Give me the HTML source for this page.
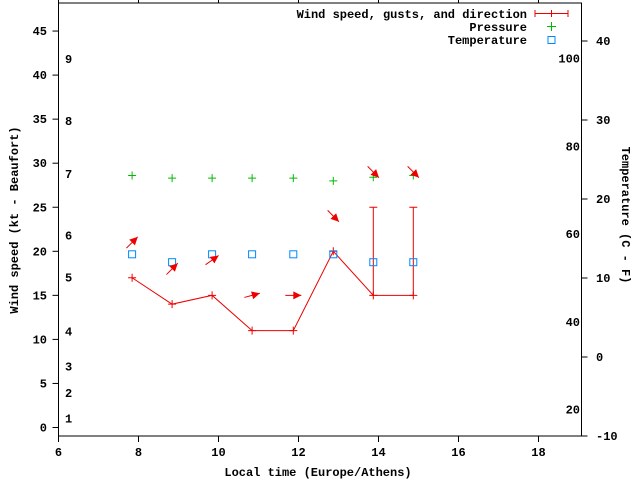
<!DOCTYPE html>
<html><head><meta charset="utf-8"><style>
body{margin:0;background:#fff}
svg{display:block}
text{font-family:"Liberation Mono","DejaVu Sans Mono",monospace;font-size:12px;font-weight:bold;fill:#000}
</style></head><body>
<svg id="chart" width="640" height="480" viewBox="0 0 640 480" xmlns="http://www.w3.org/2000/svg">
<rect x="0" y="0" width="640" height="480" fill="#fff"/>
<g id="axes"></g>
<g id="series"></g>
<g>
<text x="527" y="18" text-anchor="end">Wind speed, gusts, and direction</text>
<g stroke="#e00" stroke-width="1"><line x1="535" y1="13.5" x2="568" y2="13.5"/><line x1="535" y1="10" x2="535" y2="17"/><line x1="568" y1="10" x2="568" y2="17"/><line x1="551.5" y1="10" x2="551.5" y2="17"/></g>
<text x="527" y="31" text-anchor="end">Pressure</text>
<g stroke="#0b0" stroke-width="1"><line x1="547" y1="26.5" x2="556" y2="26.5"/><line x1="551.5" y1="22" x2="551.5" y2="31"/></g>
<text x="527" y="44" text-anchor="end">Temperature</text>
<rect x="548" y="36.5" width="7" height="7" fill="none" stroke="#08f"/>
</g>
<text x="318" y="476" text-anchor="middle">Local time (Europe/Athens)</text>
<text transform="translate(18,220) rotate(-90)" text-anchor="middle">Wind speed (kt - Beaufort)</text>
<text transform="translate(622,215) rotate(90)" text-anchor="middle">Temperature (C - F)</text>
</svg>
<script>
const times=[7.84,8.84,9.84,10.84,11.87,12.87,13.87,14.87];
const windKt=[17,14,15,11,11,20,15,15];
const gustKt=[null,null,null,null,null,null,25,25];
const pressurePlot=[28.6,28.3,28.3,28.3,28.3,28.0,28.4,28.6];
const tempC=[13,12,13,13,13,13,12,12];
const windFromDeg=[225,225,235,255,270,315,315,315];
const arrowKt=[21,18,19,15,15,24,29,29];
const xTicks=[6,8,10,12,14,16,18];
const yTicks=[0,5,10,15,20,25,30,35,40,45];
const y2Ticks=[-10,0,10,20,30,40];
const fTicks=[20,40,60,80,100];
const bftLabels=["1","2","3","4","5","6","7","8","9"];
const bftKt=[1.0,3.9,6.9,10.9,17,21.8,28.8,34.8,41.8];

const L=58.5,R=581.5,T=3,B=436;
const X=t=>L+(t-6)*40;
const Y=v=>427.5-v*8.81;
const Y2=c=>357-c*7.9;
const NS="http://www.w3.org/2000/svg";
const ax=document.getElementById('axes'),se=document.getElementById('series');
function mk(tag,attrs,parent,txt){const e=document.createElementNS(NS,tag);for(const k in attrs)e.setAttribute(k,attrs[k]);if(txt!==undefined)e.textContent=txt;parent.appendChild(e);return e;}

let e=mk('rect',{x:L,y:T,width:R-L,height:B-T,fill:'none',stroke:'#000','stroke-width':1},ax);


xTicks.forEach(t=>{
 let l=mk('line',{x1:X(t),y1:B,x2:X(t),y2:B+6,stroke:'#000'},ax);
 
 
 let l2=mk('line',{x1:X(t),y1:T,x2:X(t),y2:T-6,stroke:'#000'},ax);
 
 
 let s=mk('text',{x:X(t),y:B+20,'text-anchor':'middle'},ax,String(t));
 
 
});
yTicks.forEach(v=>{
 let l=mk('line',{x1:L-6,y1:Y(v),x2:L,y2:Y(v),stroke:'#000'},ax);
 
 
 let s=mk('text',{x:47,y:Y(v)+4,'text-anchor':'end'},ax,String(v));
 
 
});
y2Ticks.forEach(v=>{
 let l=mk('line',{x1:R,y1:Y2(v),x2:R+6,y2:Y2(v),stroke:'#000'},ax);
 
 
 let s=mk('text',{x:596,y:Y2(v)+4,'text-anchor':'start'},ax,String(v));
 
 
});
fTicks.forEach(f=>{
 const c=(f-32)*5/9;
 let s=mk('text',{x:580,y:Y2(c)+4,'text-anchor':'end'},ax,String(f));
 
 
});
bftLabels.forEach((b,i)=>{
 let s=mk('text',{x:65,y:Y(bftKt[i])+4},ax,b);
 
 
});
// wind line
let pts=times.map((t,i)=>X(t)+','+Y(windKt[i])).join(' ');
let pl=mk('polyline',{points:pts,fill:'none',stroke:'#e00','stroke-width':1},se);


times.forEach((t,i)=>{
 const x=X(t),y=Y(windKt[i]);
 let g=mk('path',{d:`M${x-4},${y}H${x+4}M${x},${y-4}V${y+4}`,stroke:'#e00'},se);
 
 
 if(gustKt[i]!==null){
  const yg=Y(gustKt[i]);
  let b=mk('path',{d:`M${x},${y}V${yg}M${x-4},${yg}H${x+4}`,stroke:'#e00'},se);
  
  
 }
 // pressure
 const py=Y(pressurePlot[i]);
 let p=mk('path',{d:`M${x-4},${py}H${x+4}M${x},${py-4}V${py+4}`,stroke:'#0b0'},se);
 
 
 // temperature
 let r=mk('rect',{x:x-3.5,y:Y2(tempC[i])-3.5,width:7,height:7,fill:'none',stroke:'#08f'},se);
 
 
 // direction arrow (travels toward from+180)
 const a=(windFromDeg[i]+180)*Math.PI/180;
 const dx=Math.sin(a),dy=-Math.cos(a);
 const cx=x,cy=Y(arrowKt[i]),len=16;
 const x0=cx-dx*len/2,y0=cy-dy*len/2,x1=cx+dx*len/2,y1=cy+dy*len/2;
 const hx=x1-dx*8,hy=y1-dy*8,px=-dy,py2=dx;
 let ar=mk('g',{},se);
 
 
 mk('line',{x1:x0,y1:y0,x2:x1,y2:y1,stroke:'#e00'},ar);
 mk('polygon',{points:`${x1},${y1} ${hx+px*4},${hy+py2*4} ${hx-px*4},${hy-py2*4}`,fill:'#e00'},ar);
});
</script>
</body></html>
